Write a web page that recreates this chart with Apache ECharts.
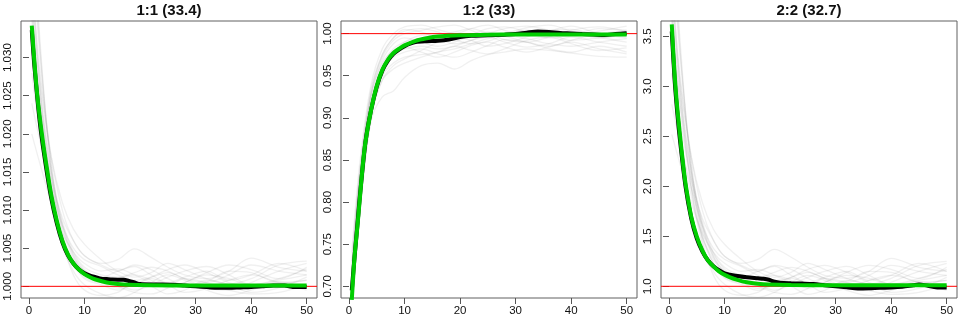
<!DOCTYPE html>
<html><head><meta charset="utf-8">
<script src="https://cdn.jsdelivr.net/npm/echarts@6/dist/echarts.min.js"></script>
<style>html,body{margin:0;padding:0;background:#fff}#c{width:960px;height:320px}</style>
</head><body><div id="c"></div>
<script>
// ---- data ----
const titles = ['1:1 (33.4)', '1:2 (33)', '2:2 (32.7)'];
const xTicks = [0, 10, 20, 30, 40, 50];
const yTicks1 = [1.000, 1.005, 1.010, 1.015, 1.020, 1.025, 1.030];
const yTicks2 = [0.70, 0.75, 0.80, 0.85, 0.90, 0.95, 1.00];
const yTicks3 = [1.0, 1.5, 2.0, 2.5, 3.0, 3.5];

// x positions for the individual (gray) runs
const runX = [0.5, 2, 4, 6, 8, 10, 13, 16, 19, 22, 25, 28, 32, 36, 40, 45, 50];

// panel 1 (1:1) gray runs
const runs1 = [
  [1.0360, 1.0250, 1.0150, 1.0085, 1.0045, 1.0025, 1.0015, 1.0012, 1.0018, 1.0025, 1.0020, 1.0010, 1.0005, 1.0015, 1.0028, 1.0020, 1.0015],
  [1.0400, 1.0280, 1.0170, 1.0100, 1.0060, 1.0040, 1.0030, 1.0035, 1.0049, 1.0038, 1.0025, 1.0015, 1.0010, 1.0020, 1.0037, 1.0025, 1.0020],
  [1.0200, 1.0160, 1.0110, 1.0070, 1.0045, 1.0030, 1.0020, 1.0023, 1.0015, 1.0005, 1.0000, 1.0005, 1.0015, 1.0010, 1.0002, 1.0010, 1.0023],
  [1.0240, 1.0190, 1.0130, 1.0080, 1.0050, 1.0035, 1.0026, 1.0015, 1.0008, 1.0012, 1.0018, 1.0010, 0.9998, 0.9995, 1.0005, 1.0020, 1.0030],
  [1.0450, 1.0300, 1.0160, 1.0070, 1.0030, 1.0010, 1.0002, 0.9995, 1.0003, 1.0010, 1.0002, 0.9992, 0.9997, 1.0008, 1.0015, 1.0005, 0.9995],
  [1.0500, 1.0320, 1.0150, 1.0060, 1.0015, 0.9995, 0.9988, 0.9992, 1.0005, 1.0000, 0.9990, 0.9995, 1.0008, 1.0002, 0.9992, 0.9998, 1.0012],
  [1.0380, 1.0270, 1.0170, 1.0110, 1.0075, 1.0055, 1.0035, 1.0020, 1.0012, 1.0018, 1.0030, 1.0022, 1.0010, 1.0003, 1.0010, 1.0028, 1.0033],
  [1.0330, 1.0240, 1.0140, 1.0075, 1.0038, 1.0020, 1.0008, 1.0003, 0.9995, 1.0002, 1.0012, 1.0020, 1.0026, 1.0015, 1.0002, 1.0008, 1.0015],
  [1.0420, 1.0260, 1.0130, 1.0055, 1.0020, 1.0002, 0.9990, 0.9985, 0.9992, 1.0005, 1.0015, 1.0008, 0.9995, 0.9988, 0.9995, 1.0006, 0.9998],
  [1.0300, 1.0220, 1.0140, 1.0090, 1.0060, 1.0040, 1.0028, 1.0020, 1.0028, 1.0022, 1.0010, 1.0002, 1.0006, 1.0020, 1.0018, 1.0005, 1.0008],
  [1.0350, 1.0240, 1.0130, 1.0065, 1.0030, 1.0012, 1.0005, 1.0010, 1.0015, 1.0008, 0.9998, 1.0005, 1.0018, 1.0028, 1.0022, 1.0010, 1.0025],
  [1.0480, 1.0310, 1.0160, 1.0080, 1.0040, 1.0020, 1.0010, 1.0000, 0.9992, 0.9990, 0.9998, 1.0010, 1.0005, 0.9995, 0.9990, 0.9992, 1.0003],
  [1.0280, 1.0200, 1.0120, 1.0065, 1.0035, 1.0018, 1.0012, 1.0020, 1.0026, 1.0015, 1.0005, 1.0012, 1.0020, 1.0008, 1.0015, 1.0030, 1.0020],
  [1.0370, 1.0260, 1.0150, 1.0080, 1.0042, 1.0022, 1.0005, 0.9998, 1.0002, 1.0012, 1.0022, 1.0028, 1.0018, 1.0005, 0.9998, 1.0002, 1.0008]
];
const meanX1 = [0.5, 1, 2, 3, 4, 5, 6, 7, 8, 9, 10, 11, 12, 13, 14, 15, 16, 17, 18, 19, 20, 22, 24, 26, 28, 30, 32, 34, 36, 38, 40, 42, 44, 45, 46, 48, 50];
const mean1 = [1.0336, 1.0287, 1.0212, 1.0160, 1.0116, 1.0083, 1.0058, 1.0041, 1.0030, 1.0022, 1.0017, 1.0014, 1.0012, 1.0010, 1.00095, 1.0009, 1.00087, 1.00085, 1.0007, 1.0005, 1.0003, 1.00025, 1.00025, 1.0002, 1.0001, 1.0000, 0.9999, 0.9998, 0.9998, 0.99985, 0.9999, 1.0000, 1.0001, 1.00012, 1.0001, 0.9999, 0.9999];
const fitX1 = [0.5, 1, 1.5, 2, 2.5, 3, 4, 5, 6, 7, 8, 9, 10, 11, 12, 14, 16, 18, 22, 30, 40, 50];
const fit1 = [1.0342, 1.0292, 1.0250, 1.0218, 1.0190, 1.0165, 1.0120, 1.0086, 1.0060, 1.0042, 1.0030, 1.0022, 1.0016, 1.0012, 1.0009, 1.0005, 1.0003, 1.0002, 1.00015, 1.0001, 1.0001, 1.0001];

// panel 2 (1:2)
const runs2 = [
  [0.660, 0.790, 0.905, 0.955, 0.978, 0.990, 0.998, 0.999, 0.993, 0.988, 0.991, 0.998, 1.004, 1.000, 0.992, 0.995, 0.998],
  [0.720, 0.840, 0.935, 0.975, 0.995, 1.003, 1.006, 1.002, 0.996, 0.999, 1.006, 1.008, 1.002, 0.995, 0.998, 1.006, 1.004],
  [0.690, 0.800, 0.897, 0.925, 0.932, 0.948, 0.962, 0.965, 0.958, 0.968, 0.975, 0.978, 0.982, 0.980, 0.977, 0.973, 0.972],
  [0.700, 0.820, 0.915, 0.958, 0.975, 0.982, 0.985, 0.982, 0.985, 0.992, 0.996, 0.990, 0.984, 0.988, 0.996, 0.990, 0.985],
  [0.740, 0.850, 0.940, 0.982, 1.000, 1.008, 1.010, 1.005, 1.000, 1.006, 1.010, 1.004, 0.998, 1.003, 1.009, 1.000, 0.995],
  [0.680, 0.800, 0.910, 0.950, 0.965, 0.972, 0.975, 0.978, 0.985, 0.980, 0.976, 0.982, 0.992, 0.996, 0.988, 0.980, 0.983],
  [0.710, 0.830, 0.925, 0.968, 0.988, 0.995, 0.990, 0.985, 0.990, 0.998, 1.002, 0.997, 0.990, 0.985, 0.992, 1.000, 1.003],
  [0.670, 0.790, 0.900, 0.945, 0.962, 0.970, 0.980, 0.990, 0.996, 0.992, 0.985, 0.988, 0.996, 1.004, 1.005, 0.996, 0.990],
  [0.730, 0.840, 0.930, 0.972, 0.992, 1.000, 1.004, 1.008, 1.010, 1.004, 0.997, 1.000, 1.007, 1.010, 1.003, 0.995, 1.001],
  [0.690, 0.810, 0.912, 0.955, 0.972, 0.978, 0.982, 0.976, 0.972, 0.978, 0.986, 0.993, 0.990, 0.982, 0.978, 0.985, 0.978],
  [0.700, 0.820, 0.920, 0.962, 0.982, 0.990, 0.995, 0.998, 1.002, 1.006, 1.000, 0.993, 0.990, 0.996, 1.004, 1.008, 1.002],
  [0.720, 0.835, 0.928, 0.965, 0.980, 0.984, 0.978, 0.972, 0.978, 0.986, 0.990, 0.984, 0.978, 0.984, 0.990, 0.982, 0.976],
  [0.680, 0.800, 0.905, 0.945, 0.958, 0.965, 0.972, 0.978, 0.982, 0.988, 0.994, 0.998, 0.994, 0.988, 0.985, 0.990, 0.994],
  [0.710, 0.830, 0.930, 0.975, 0.995, 1.005, 1.002, 0.994, 0.988, 0.992, 1.000, 1.006, 1.009, 1.004, 0.998, 1.003, 1.009]
];
const meanX2 = [0.5, 1, 1.5, 2, 3, 4, 5, 6, 7, 8, 9, 10, 11, 12, 14, 16, 18, 20, 22, 25, 28, 30, 32, 34, 36, 38, 40, 42, 44, 46, 48, 50];
const mean2 = [0.695, 0.735, 0.772, 0.810, 0.873, 0.910, 0.937, 0.956, 0.968, 0.976, 0.981, 0.985, 0.988, 0.990, 0.991, 0.9915, 0.993, 0.996, 0.9975, 0.998, 0.9988, 0.9995, 1.0012, 1.0025, 1.0020, 1.0008, 1.0002, 0.9995, 0.9990, 0.9985, 0.9995, 1.0005];
const fitX2 = [0.5, 1, 1.5, 2, 2.5, 3, 4, 5, 6, 7, 8, 9, 10, 12, 14, 16, 20, 25, 30, 40, 50];
const fit2 = [0.684, 0.735, 0.770, 0.808, 0.845, 0.873, 0.910, 0.938, 0.957, 0.969, 0.977, 0.982, 0.986, 0.9915, 0.9945, 0.9965, 0.998, 0.9988, 0.999, 0.999, 0.999];

// panel 3 (2:2)
const runs3 = [
  [3.70, 2.90, 2.15, 1.65, 1.34, 1.19, 1.11, 1.09, 1.14, 1.19, 1.15, 1.08, 1.04, 1.11, 1.21, 1.15, 1.11],
  [4.00, 3.10, 2.30, 1.76, 1.46, 1.30, 1.23, 1.27, 1.37, 1.29, 1.19, 1.11, 1.08, 1.15, 1.28, 1.19, 1.15],
  [2.52, 2.22, 1.84, 1.53, 1.34, 1.23, 1.15, 1.17, 1.11, 1.04, 1.00, 1.04, 1.11, 1.08, 1.02, 1.08, 1.17],
  [2.82, 2.44, 1.99, 1.61, 1.38, 1.27, 1.20, 1.11, 1.06, 1.09, 1.14, 1.08, 0.98, 0.96, 1.04, 1.15, 1.23],
  [4.40, 3.30, 2.22, 1.53, 1.23, 1.08, 1.02, 0.96, 1.02, 1.08, 1.02, 0.94, 0.98, 1.06, 1.11, 1.04, 0.96],
  [4.80, 3.45, 2.14, 1.46, 1.11, 0.96, 0.91, 0.94, 1.04, 1.00, 0.92, 0.96, 1.06, 1.02, 0.94, 0.98, 1.09],
  [3.90, 3.05, 2.30, 1.84, 1.57, 1.42, 1.27, 1.15, 1.09, 1.14, 1.23, 1.17, 1.08, 1.02, 1.08, 1.21, 1.25],
  [3.50, 2.82, 2.07, 1.57, 1.29, 1.15, 1.06, 1.02, 0.96, 1.02, 1.09, 1.15, 1.20, 1.11, 1.02, 1.06, 1.11],
  [4.20, 2.98, 1.99, 1.42, 1.15, 1.02, 0.92, 0.89, 0.94, 1.04, 1.11, 1.06, 0.96, 0.91, 0.96, 1.05, 0.98],
  [3.28, 2.67, 2.07, 1.68, 1.46, 1.30, 1.21, 1.15, 1.21, 1.17, 1.08, 1.02, 1.05, 1.15, 1.14, 1.04, 1.06],
  [3.66, 2.82, 1.99, 1.49, 1.23, 1.09, 1.04, 1.08, 1.11, 1.06, 0.98, 1.04, 1.14, 1.21, 1.17, 1.08, 1.19],
  [4.65, 3.36, 2.22, 1.61, 1.30, 1.15, 1.08, 1.00, 0.94, 0.92, 0.98, 1.08, 1.04, 0.96, 0.92, 0.94, 1.02],
  [3.13, 2.52, 1.91, 1.49, 1.27, 1.14, 1.09, 1.15, 1.20, 1.11, 1.04, 1.09, 1.15, 1.06, 1.11, 1.23, 1.15],
  [3.80, 2.98, 2.14, 1.61, 1.32, 1.17, 1.04, 0.98, 1.02, 1.09, 1.17, 1.21, 1.14, 1.04, 0.98, 1.02, 1.06]
];
const meanX3 = [0.5, 1, 1.5, 2, 3, 4, 5, 6, 7, 8, 9, 10, 11, 12, 14, 16, 17, 18, 19, 20, 22, 24, 26, 28, 30, 32, 34, 36, 38, 40, 42, 44, 45, 46, 48, 50];
const mean3 = [3.55, 3.08, 2.73, 2.45, 1.99, 1.68, 1.48, 1.35, 1.26, 1.20, 1.16, 1.13, 1.115, 1.105, 1.09, 1.08, 1.075, 1.065, 1.045, 1.035, 1.03, 1.027, 1.022, 1.01, 1.00, 0.99, 0.978, 0.98, 0.985, 0.988, 0.995, 1.01, 1.017, 1.012, 0.99, 0.987];
const fitX3 = [0.5, 1, 1.5, 2, 2.5, 3, 4, 5, 6, 7, 8, 9, 10, 11, 12, 14, 16, 18, 22, 30, 40, 50];
const fit3 = [3.62, 3.13, 2.78, 2.50, 2.24, 2.02, 1.70, 1.50, 1.36, 1.26, 1.20, 1.15, 1.115, 1.09, 1.07, 1.04, 1.025, 1.018, 1.013, 1.01, 1.01, 1.01];

const refLine = [1, 1, 1];

// ---- chart ----
const FONT = '"Liberation Sans", Arial, Helvetica, sans-serif';
const xMin = -1.44, xMax = 51.86;
const yRanges = [[0.99847, 1.0348], [0.6861, 1.0150], [0.883, 3.653]];
const yTickSets = [yTicks1, yTicks2, yTicks3];
const yDec = [3, 2, 1];
const panels = [
  {runs: runs1, meanX: meanX1, mean: mean1, fitX: fitX1, fit: fit1},
  {runs: runs2, meanX: meanX2, mean: mean2, fitX: fitX2, fit: fit2},
  {runs: runs3, meanX: meanX3, mean: mean3, fitX: fitX3, fit: fit3}
];
const pairs = (xs, ys) => xs.map((x, i) => [x, ys[i]]);

const grid = [], xAxis = [], yAxis = [], series = [], title = [];
panels.forEach((p, i) => {
  const left = 21 + 320 * i;
  grid.push({left: left, top: 21, width: 296, height: 277, show: true,
    borderColor: '#606060', borderWidth: 1, backgroundColor: 'transparent'});
  title.push({text: titles[i], left: left + 148, top: 3, textAlign: 'center', padding: 0,
    textStyle: {fontFamily: FONT, fontSize: 15, fontWeight: 'bold', color: '#111'}});
  xAxis.push({type: 'value', gridIndex: i, min: xMin, max: xMax,
    axisLine: {show: false}, splitLine: {show: false},
    axisTick: {show: true, length: 6, customValues: xTicks, lineStyle: {color: '#555'}},
    axisLabel: {customValues: xTicks, margin: 7, fontSize: 11.5, fontFamily: FONT, color: '#111'}});
  yAxis.push({type: 'value', gridIndex: i, min: yRanges[i][0], max: yRanges[i][1],
    axisLine: {show: false}, splitLine: {show: false},
    axisTick: {show: true, length: 6, customValues: yTickSets[i], lineStyle: {color: '#555'}},
    axisLabel: {customValues: yTickSets[i], rotate: 90, margin: 7, fontSize: 11.5, fontFamily: FONT, color: '#111',
      formatter: v => v.toFixed(yDec[i])}});
  p.runs.forEach(r => {
    series.push({type: 'line', xAxisIndex: i, yAxisIndex: i, data: pairs(runX, r),
      showSymbol: false, smooth: 0.35, silent: true, z: 1,
      lineStyle: {color: 'rgba(110,110,110,0.10)', width: 1.3}});
  });
  series.push({type: 'line', xAxisIndex: i, yAxisIndex: i, data: pairs([xMin, 25, xMax], refLine),
    showSymbol: false, silent: true, z: 2, lineStyle: {color: '#ff0000', width: 1}});
  series.push({type: 'line', xAxisIndex: i, yAxisIndex: i, data: pairs(p.meanX, p.mean),
    showSymbol: false, smooth: 0.3, silent: true, z: 3, lineStyle: {color: '#000', width: 4}});
  series.push({type: 'line', xAxisIndex: i, yAxisIndex: i, data: pairs(p.fitX, p.fit),
    showSymbol: false, smooth: 0.3, silent: true, z: 4, lineStyle: {color: '#00cd00', width: 4}});
});

const chart = echarts.init(document.getElementById('c'), null, {renderer: 'canvas'});
chart.setOption({animation: false, backgroundColor: '#fff', title, grid, xAxis, yAxis, series});
</script>
</body></html>
